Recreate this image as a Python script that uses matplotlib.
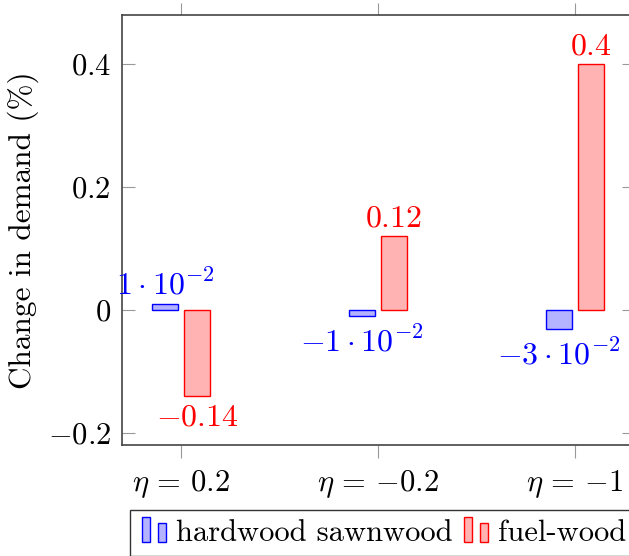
import matplotlib
matplotlib.use('Agg')
import matplotlib.pyplot as plt
import numpy as np
from matplotlib.legend_handler import HandlerBase
from matplotlib.patches import Rectangle

plt.rcParams['mathtext.fontset'] = 'cm'
plt.rcParams['font.family'] = ['cmr10']
plt.rcParams['axes.unicode_minus'] = False

categories = [r'$\eta\,=\,0.2$', r'$\eta\,=\,{-}0.2$', r'$\eta\,=\,{-}1$']
hardwood = [0.01, -0.01, -0.03]
fuelwood = [-0.14, 0.12, 0.4]
hardwood_labels = [r'$1\cdot10^{-2}$', r'$-1\cdot10^{-2}$', r'$-3\cdot10^{-2}$']
fuelwood_labels = [r'$-0.14$', r'$0.12$', r'$0.4$']
yticks = [-0.2, 0, 0.2, 0.4]
ytick_labels = [r'$-0.2$', r'$0$', r'$0.2$', r'$0.4$']

fs = 22
fig = plt.figure(figsize=(6.29, 5.56), dpi=100)
ax = fig.add_axes([122/629, 111/556, 512/629, 430/556])

x = np.arange(len(categories))
w = 0.135
off = 0.081
b1 = ax.bar(x - off, hardwood, w, facecolor=(0.7, 0.7, 1), edgecolor='blue', lw=1)
b2 = ax.bar(x + off, fuelwood, w, facecolor=(1, 0.7, 0.7), edgecolor='red', lw=1)

for xi, v, s in zip(x - off, hardwood, hardwood_labels):
    ax.annotate(s, (xi, v), xytext=(0, 3 if v > 0 else -7), textcoords='offset points',
                ha='center', va='bottom' if v > 0 else 'top', color='blue', fontsize=fs + 1)
for xi, v, s in zip(x + off, fuelwood, fuelwood_labels):
    ax.annotate(s, (xi, v), xytext=(0, 3 if v > 0 else -6), textcoords='offset points',
                ha='center', va='bottom' if v > 0 else 'top', color='red', fontsize=fs + 1)

ax.set_xlim(-0.3, 2.3)
ax.set_ylim(-0.2195, 0.48)
ax.set_xticks(x)
ax.set_xticklabels(categories, fontsize=fs)
ax.set_yticks(yticks)
ax.set_yticklabels(ytick_labels, fontsize=fs)
ax.tick_params(axis='x', direction='out', top=True, length=9, color='#999999', pad=8)
ax.tick_params(axis='y', direction='in', right=True, length=9, color='#999999', pad=8)
for sp in ax.spines.values():
    sp.set_color('#444444')
    sp.set_linewidth(1.2)
ax.set_ylabel('Change in demand (%)', fontsize=fs + 0.5, labelpad=6)


class BarHandler(HandlerBase):
    def __init__(self, fc, ec):
        super().__init__()
        self.fc = fc
        self.ec = ec

    def create_artists(self, legend, orig_handle, xdescent, ydescent, width, height, fontsize, trans):
        r1 = Rectangle((-xdescent + 2, -ydescent - 1), 5.5, 18, facecolor=self.fc, edgecolor=self.ec, lw=1, transform=trans)
        r2 = Rectangle((-xdescent + 13.5, -ydescent - 1), 5.5, 14, facecolor=self.fc, edgecolor=self.ec, lw=1, transform=trans)
        return [r1, r2]


leg = fig.legend([b1, b2], ['hardwood sawnwood', 'fuel-wood'], ncol=2, loc='upper left',
                 bbox_to_anchor=(130/629, 46/556), fontsize=fs, frameon=True, fancybox=False,
                 handler_map={b1: BarHandler((0.7, 0.7, 1), 'blue'), b2: BarHandler((1, 0.7, 0.7), 'red')},
                 handlelength=1.0, handletextpad=0.2, columnspacing=0.3, borderpad=0.3,
                 borderaxespad=0)
leg.get_frame().set_edgecolor('black')
leg.get_frame().set_linewidth(1.0)

fig.savefig('out.png', dpi=100)
